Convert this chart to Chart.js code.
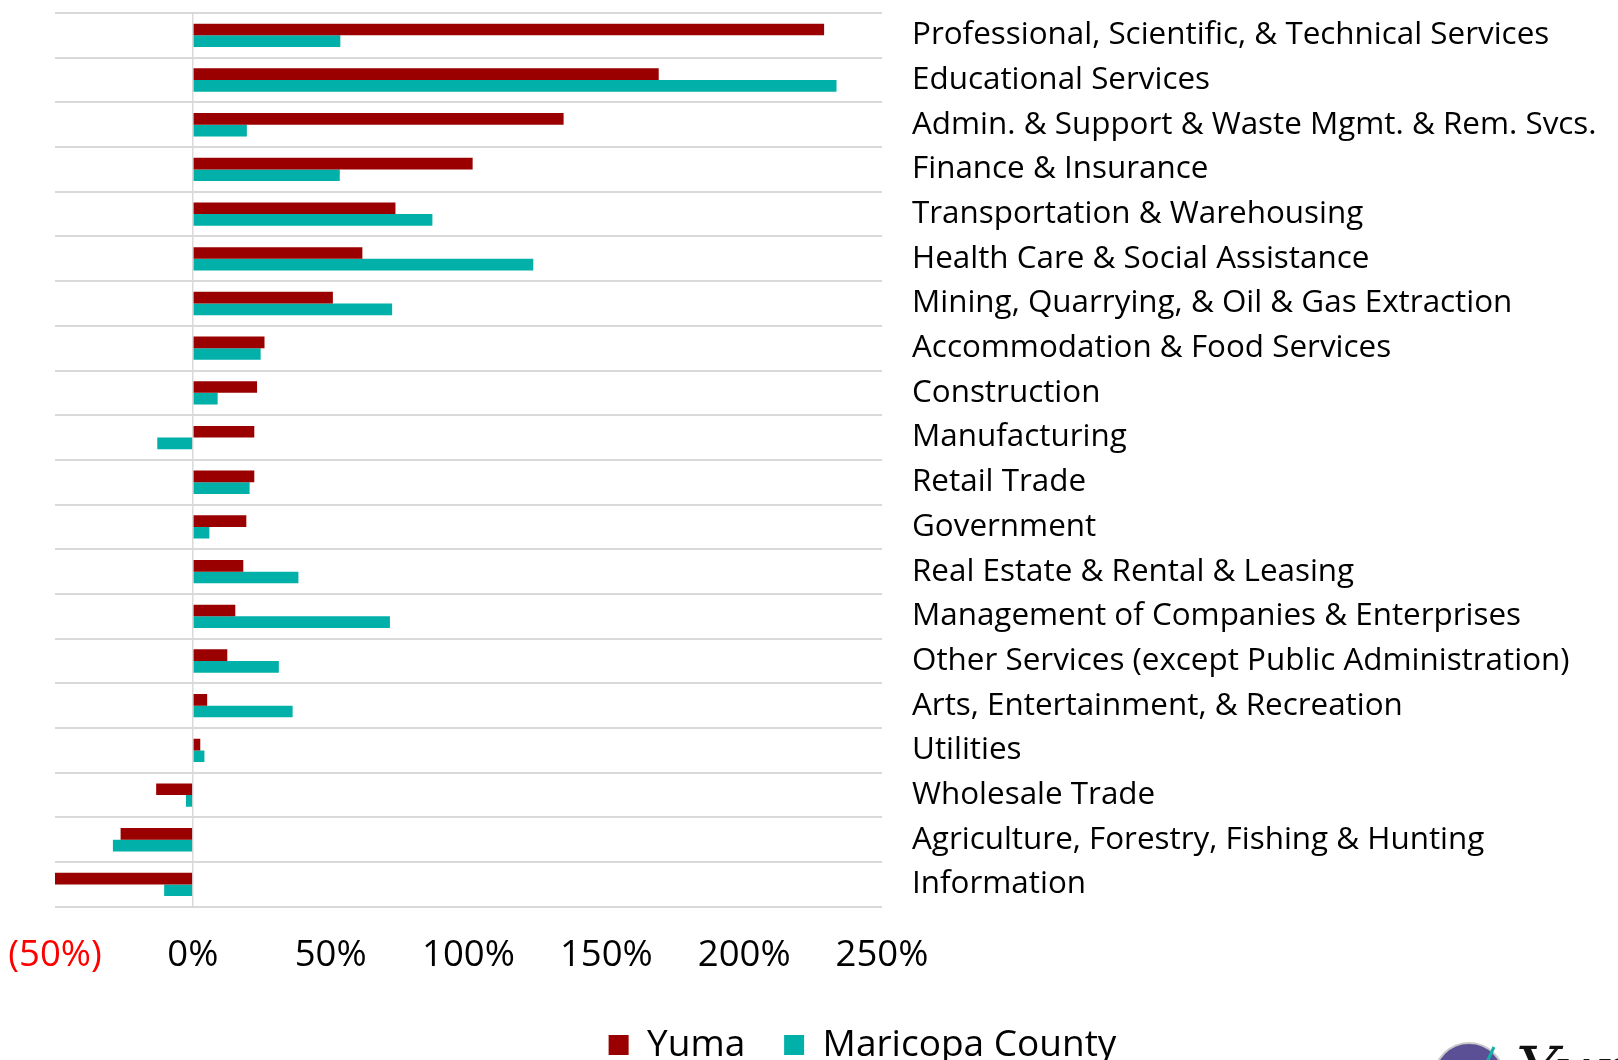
<!DOCTYPE html>
<html>
<head>
<meta charset="utf-8">
<title>Industry Growth: Yuma vs Maricopa County</title>
<script src="https://cdn.jsdelivr.net/npm/chart.js@4.4.1/dist/chart.umd.min.js"></script>
<style>
  html, body { margin: 0; padding: 0; background: #ffffff; overflow: hidden; }
  #wrap { position: relative; width: 1618px; height: 1091px; }
</style>
</head>
<body>
<div id="wrap"><canvas id="growthChart"></canvas></div>
<script>
// Industry sectors, top to bottom
const industries = [
  'Professional, Scientific, & Technical Services',
  'Educational Services',
  'Admin. & Support & Waste Mgmt. & Rem. Svcs.',
  'Finance & Insurance',
  'Transportation & Warehousing',
  'Health Care & Social Assistance',
  'Mining, Quarrying, & Oil & Gas Extraction',
  'Accommodation & Food Services',
  'Construction',
  'Manufacturing',
  'Retail Trade',
  'Government',
  'Real Estate & Rental & Leasing',
  'Management of Companies & Enterprises',
  'Other Services (except Public Administration)',
  'Arts, Entertainment, & Recreation',
  'Utilities',
  'Wholesale Trade',
  'Agriculture, Forestry, Fishing & Hunting',
  'Information'
];

// Percent growth by sector
const yumaGrowth = [229, 169, 134.5, 101.5, 73.5, 61.5, 50.8, 26, 23.3, 22.3, 22.3, 19.4, 18.3, 15.4, 12.5, 5.2, 2.7, -13.3, -26.2, -50];
const maricopaGrowth = [53.5, 233.5, 19.6, 53.3, 86.9, 123.5, 72.3, 24.6, 9, -12.9, 20.6, 6, 38.3, 71.5, 31.2, 36.2, 4.2, -2.5, -29, -10.4];

const seriesNames = ['Yuma', 'Maricopa County'];
const seriesColors = ['#9a0000', '#00b0a9'];

// Value axis range and tick spacing (percent)
const axisMin = -50;
const axisMax = 250;
const axisStep = 50;

const fontFamily = '"Open Sans", "Noto Sans", Lato, sans-serif';

function pctLabel(v) {
  return v < 0 ? '(' + Math.abs(v) + '%)' : v + '%';
}

// Places the bottom legend row under the bars and labels
const legendPlace = {
  id: 'legendPlace',
  afterLayout(chart, args, opts) {
    const lg = chart.legend;
    if (!lg) return;
    const lab = lg.options.labels;
    const itemH = Math.max(lab.font.size || 12, lab.boxHeight || 0);
    const dy = opts.rowCenterY - (lg.top + lab.padding + itemH / 2);
    lg.top += dy; lg.bottom += dy;
    lg.left += opts.dx; lg.right += opts.dx;
  }
};

// Round emblem and script wordmark in the lower right corner
const cornerMark = {
  id: 'cornerMark',
  afterDraw(chart) {
    const ctx = chart.ctx;
    ctx.save();
    ctx.beginPath();
    ctx.arc(1469, 1078, 35, 0, Math.PI * 2);
    ctx.fillStyle = '#5b4f96';
    ctx.fill();
    ctx.lineWidth = 2;
    ctx.strokeStyle = '#c8c8c8';
    ctx.stroke();
    ctx.beginPath();
    ctx.moveTo(1494, 1047);
    ctx.lineTo(1487, 1062);
    ctx.lineWidth = 3;
    ctx.strokeStyle = '#10b0a8';
    ctx.stroke();
    ctx.fillStyle = '#111111';
    ctx.font = 'italic 64px "DejaVu Serif", serif';
    ctx.textBaseline = 'alphabetic';
    ctx.fillText('Yuma', 1516, 1092);
    ctx.restore();
  }
};

new Chart(document.getElementById('growthChart'), {
  type: 'bar',
  data: {
    labels: industries,
    datasets: [
      { label: seriesNames[0], data: yumaGrowth, backgroundColor: seriesColors[0], borderWidth: 0 },
      { label: seriesNames[1], data: maricopaGrowth, backgroundColor: seriesColors[1], borderWidth: 0 }
    ]
  },
  options: {
    indexAxis: 'y',
    responsive: true,
    maintainAspectRatio: false,
    animation: false,
    categoryPercentage: 0.522,
    barPercentage: 1.0,
    layout: { padding: { left: 55, top: 13, right: 0, bottom: 0 } },
    scales: {
      x: {
        type: 'linear',
        position: 'bottom',
        min: axisMin,
        max: axisMax,
        border: { display: false },
        grid: {
          drawTicks: false,
          lineWidth: 1.5,
          color: (c) => (c.tick && c.tick.value === 0) ? '#d9d9d9' : 'rgba(0,0,0,0)'
        },
        ticks: {
          stepSize: axisStep,
          padding: 20,
          font: { family: fontFamily, size: 36.5, lineHeight: 1.6 },
          color: (c) => (c.tick && c.tick.value < 0) ? '#ff0000' : '#000000',
          callback: (v) => pctLabel(v)
        },
        afterFit: (scale) => {
          scale.paddingLeft = 0;
          scale.paddingRight = 0;
        }
      },
      y: {
        type: 'category',
        position: 'right',
        border: { display: false },
        grid: {
          offset: true,
          drawTicks: false,
          color: '#d9d9d9',
          lineWidth: 2
        },
        ticks: {
          padding: 30,
          font: { family: fontFamily, size: 31.4 },
          color: '#000000'
        },
        afterFit: (scale) => {
          scale.width = 736;
          scale.paddingTop = 0;
          scale.paddingBottom = 0;
        }
      }
    },
    plugins: {
      legend: {
        position: 'bottom',
        labels: {
          boxWidth: 20,
          boxHeight: 20,
          padding: 38.8,
          color: '#000000',
          font: { family: fontFamily, size: 37 }
        }
      },
      legendPlace: { dx: 26, rowCenterY: 1045 },
      tooltip: { enabled: false }
    }
  },
  plugins: [legendPlace, cornerMark]
});
</script>
</body>
</html>
